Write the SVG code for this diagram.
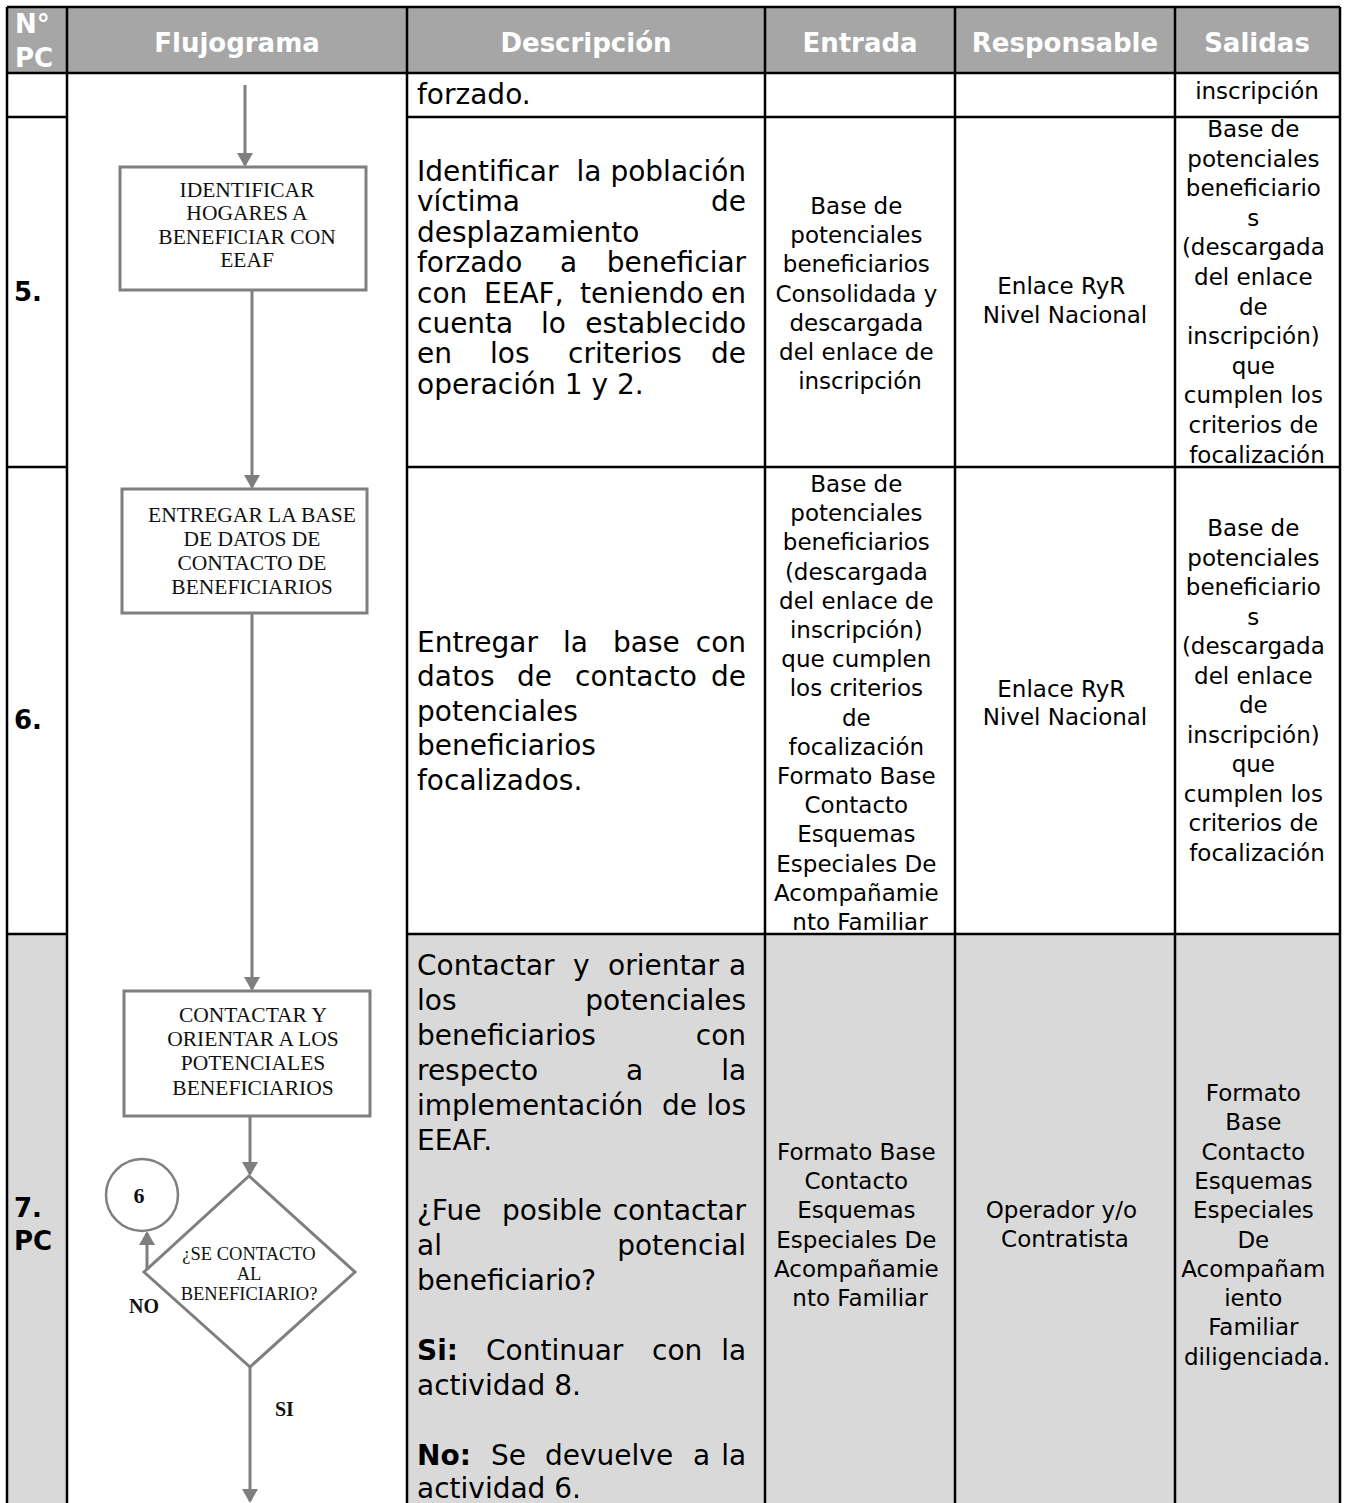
<svg xmlns="http://www.w3.org/2000/svg" width="1346" height="1503" viewBox="0 0 1346 1503">
<style>
.hd{font-family:"DejaVu Sans",Verdana,sans-serif;font-weight:bold;font-size:26px;fill:#fff;text-anchor:middle}
.hdl{font-family:"DejaVu Sans",Verdana,sans-serif;font-weight:bold;font-size:26px;fill:#fff}
.num{font-family:"DejaVu Sans",Verdana,sans-serif;font-weight:bold;font-size:26px;fill:#000}
.desc{font-family:"DejaVu Sans",Verdana,sans-serif;font-size:28px;fill:#000}
.desc .b{font-weight:bold}
.cell{font-family:"DejaVu Sans",Verdana,sans-serif;font-size:23px;fill:#000;text-anchor:middle}
.grid{stroke:#000;stroke-width:2.5;fill:none}
.shape{fill:#fff;stroke:#7f7f7f;stroke-width:3}
.btxt{font-family:"Liberation Serif","Times New Roman",serif;font-size:21.5px;fill:#111;text-anchor:middle}
.dtxt{font-family:"Liberation Serif","Times New Roman",serif;font-size:18.5px;fill:#111;text-anchor:middle}
.lbl{font-family:"Liberation Serif","Times New Roman",serif;font-size:20px;font-weight:bold;fill:#111}
.conn{stroke:#7f7f7f;stroke-width:3;fill:none;marker-end:url(#arr)}
</style>
<defs>
<marker id="arr" viewBox="0 0 14 16" refX="12" refY="8" markerWidth="14" markerHeight="16" markerUnits="userSpaceOnUse" orient="auto">
<path d="M0,0 L14,8 L0,16 z" fill="#7f7f7f"/>
</marker>
</defs>
<rect width="1346" height="1503" fill="#fff"/>
<!-- backgrounds -->
<rect x="7" y="7" width="1333" height="66" fill="#a6a6a6"/>
<rect x="7" y="934" width="60" height="569" fill="#d9d9d9"/>
<rect x="407" y="934" width="933" height="569" fill="#d9d9d9"/>
<!-- grid -->
<g id="grid" class="grid">
<path d="M7,7 H1340 M7,73 H1340 M7,117 H67 M407,117 H1340 M7,467 H67 M407,467 H1340 M7,934 H67 M407,934 H1340"/>
<path d="M7,7 V1503 M67,7 V1503 M407,7 V1503 M765,7 V1503 M955,7 V1503 M1175,7 V1503 M1340,7 V1503"/>
</g>
<!-- header -->
<g id="header">
<text class="hdl" x="15" y="33">N°</text>
<text class="hdl" x="15" y="67">PC</text>
<text class="hd" x="237" y="52">Flujograma</text>
<text class="hd" x="586" y="52">Descripción</text>
<text class="hd" x="860" y="52">Entrada</text>
<text class="hd" x="1065" y="52">Responsable</text>
<text class="hd" x="1257" y="52">Salidas</text>
</g>
<!-- row 4 (continuation) -->
<g id="row4">
<text class="desc" x="417" y="104">forzado.</text>
<text class="cell" x="1257" y="99">inscripción</text>
</g>
<!-- row 5 -->
<g id="row5">
<text class="num" x="14" y="301">5.</text>
<text class="desc">
<tspan x="417" y="181">Identificar</tspan><tspan x="576.5" y="181">la</tspan><tspan x="755" y="181" text-anchor="end">población</tspan>
<tspan x="417" y="211">víctima</tspan><tspan x="755" y="211" text-anchor="end">de</tspan>
<tspan x="417" y="242">desplazamiento</tspan>
<tspan x="417" y="272">forzado</tspan><tspan x="560" y="272">a</tspan><tspan x="755" y="272" text-anchor="end">beneficiar</tspan>
<tspan x="417" y="303">con</tspan><tspan x="484" y="303">EEAF,</tspan><tspan x="580" y="303">teniendo</tspan><tspan x="755" y="303" text-anchor="end">en</tspan>
<tspan x="417" y="333">cuenta</tspan><tspan x="541" y="333">lo</tspan><tspan x="755" y="333" text-anchor="end">establecido</tspan>
<tspan x="417" y="363">en</tspan><tspan x="490" y="363">los</tspan><tspan x="568" y="363">criterios</tspan><tspan x="755" y="363" text-anchor="end">de</tspan>
<tspan x="417" y="394">operación 1 y 2.</tspan>
</text>
<text class="cell">
<tspan x="860" y="214">Base de</tspan>
<tspan x="860" y="243">potenciales</tspan>
<tspan x="860" y="272">beneficiarios</tspan>
<tspan x="860" y="302">Consolidada y</tspan>
<tspan x="860" y="331">descargada</tspan>
<tspan x="860" y="360">del enlace de</tspan>
<tspan x="860" y="389">inscripción</tspan>
</text>
<text class="cell">
<tspan x="1065" y="294">Enlace RyR</tspan>
<tspan x="1065" y="323">Nivel Nacional</tspan>
</text>
<text class="cell">
<tspan x="1257" y="137">Base de</tspan>
<tspan x="1257" y="167">potenciales</tspan>
<tspan x="1257" y="196">beneficiario</tspan>
<tspan x="1257" y="226">s</tspan>
<tspan x="1257" y="255">(descargada</tspan>
<tspan x="1257" y="285">del enlace</tspan>
<tspan x="1257" y="315">de</tspan>
<tspan x="1257" y="344">inscripción)</tspan>
<tspan x="1257" y="374">que</tspan>
<tspan x="1257" y="403">cumplen los</tspan>
<tspan x="1257" y="433">criterios de</tspan>
<tspan x="1257" y="463">focalización</tspan>
</text>
</g>
<!-- row 6 -->
<g id="row6">
<text class="num" x="14" y="729">6.</text>
<text class="desc">
<tspan x="417" y="652">Entregar</tspan><tspan x="563" y="652">la</tspan><tspan x="613" y="652">base</tspan><tspan x="755" y="652" text-anchor="end">con</tspan>
<tspan x="417" y="686">datos</tspan><tspan x="517" y="686">de</tspan><tspan x="575" y="686">contacto</tspan><tspan x="755" y="686" text-anchor="end">de</tspan>
<tspan x="417" y="721">potenciales</tspan>
<tspan x="417" y="755">beneficiarios</tspan>
<tspan x="417" y="790">focalizados.</tspan>
</text>
<text class="cell">
<tspan x="860" y="492">Base de</tspan>
<tspan x="860" y="521">potenciales</tspan>
<tspan x="860" y="550">beneficiarios</tspan>
<tspan x="860" y="580">(descargada</tspan>
<tspan x="860" y="609">del enlace de</tspan>
<tspan x="860" y="638">inscripción)</tspan>
<tspan x="860" y="667">que cumplen</tspan>
<tspan x="860" y="696">los criterios</tspan>
<tspan x="860" y="726">de</tspan>
<tspan x="860" y="755">focalización</tspan>
<tspan x="860" y="784">Formato Base</tspan>
<tspan x="860" y="813">Contacto</tspan>
<tspan x="860" y="842">Esquemas</tspan>
<tspan x="860" y="872">Especiales De</tspan>
<tspan x="860" y="901">Acompañamie</tspan>
<tspan x="860" y="930">nto Familiar</tspan>
</text>
<text class="cell">
<tspan x="1065" y="697">Enlace RyR</tspan>
<tspan x="1065" y="725">Nivel Nacional</tspan>
</text>
<text class="cell">
<tspan x="1257" y="536">Base de</tspan>
<tspan x="1257" y="566">potenciales</tspan>
<tspan x="1257" y="595">beneficiario</tspan>
<tspan x="1257" y="625">s</tspan>
<tspan x="1257" y="654">(descargada</tspan>
<tspan x="1257" y="684">del enlace</tspan>
<tspan x="1257" y="713">de</tspan>
<tspan x="1257" y="743">inscripción)</tspan>
<tspan x="1257" y="772">que</tspan>
<tspan x="1257" y="802">cumplen los</tspan>
<tspan x="1257" y="831">criterios de</tspan>
<tspan x="1257" y="861">focalización</tspan>
</text>
</g>
<!-- row 7 -->
<g id="row7">
<text class="num" x="14" y="1217">7.</text>
<text class="num" x="14" y="1250">PC</text>
<text class="desc">
<tspan x="417" y="975">Contactar</tspan><tspan x="573" y="975">y</tspan><tspan x="608" y="975">orientar</tspan><tspan x="755" y="975" text-anchor="end">a</tspan>
<tspan x="417" y="1010">los</tspan><tspan x="755" y="1010" text-anchor="end">potenciales</tspan>
<tspan x="417" y="1045">beneficiarios</tspan><tspan x="755" y="1045" text-anchor="end">con</tspan>
<tspan x="417" y="1080">respecto</tspan><tspan x="626" y="1080">a</tspan><tspan x="755" y="1080" text-anchor="end">la</tspan>
<tspan x="417" y="1115">implementación</tspan><tspan x="662" y="1115">de</tspan><tspan x="755" y="1115" text-anchor="end">los</tspan>
<tspan x="417" y="1150">EEAF.</tspan>
<tspan x="417" y="1220">¿Fue</tspan><tspan x="502" y="1220">posible</tspan><tspan x="755" y="1220" text-anchor="end">contactar</tspan>
<tspan x="417" y="1255">al</tspan><tspan x="755" y="1255" text-anchor="end">potencial</tspan>
<tspan x="417" y="1290">beneficiario?</tspan>
<tspan x="417" y="1360" class="b">Si:</tspan><tspan x="486" y="1360">Continuar</tspan><tspan x="652" y="1360">con</tspan><tspan x="755" y="1360" text-anchor="end">la</tspan>
<tspan x="417" y="1395">actividad 8.</tspan>
<tspan x="417" y="1465" class="b">No:</tspan><tspan x="491" y="1465">Se</tspan><tspan x="545" y="1465">devuelve</tspan><tspan x="693" y="1465">a</tspan><tspan x="755" y="1465" text-anchor="end">la</tspan>
<tspan x="417" y="1498">actividad 6.</tspan>
</text>
<text class="cell">
<tspan x="860" y="1160">Formato Base</tspan>
<tspan x="860" y="1189">Contacto</tspan>
<tspan x="860" y="1218">Esquemas</tspan>
<tspan x="860" y="1248">Especiales De</tspan>
<tspan x="860" y="1277">Acompañamie</tspan>
<tspan x="860" y="1306">nto Familiar</tspan>
</text>
<text class="cell">
<tspan x="1065" y="1218">Operador y/o</tspan>
<tspan x="1065" y="1247">Contratista</tspan>
</text>
<text class="cell">
<tspan x="1257" y="1101">Formato</tspan>
<tspan x="1257" y="1130">Base</tspan>
<tspan x="1257" y="1160">Contacto</tspan>
<tspan x="1257" y="1189">Esquemas</tspan>
<tspan x="1257" y="1218">Especiales</tspan>
<tspan x="1257" y="1248">De</tspan>
<tspan x="1257" y="1277">Acompañam</tspan>
<tspan x="1257" y="1306">iento</tspan>
<tspan x="1257" y="1335">Familiar</tspan>
<tspan x="1257" y="1365">diligenciada.</tspan>
</text>
</g>
<!-- connectors -->
<g id="connectors">
<path class="conn" d="M245,85 V165"/>
<path class="conn" d="M252,290 V487"/>
<path class="conn" d="M252,613 V989"/>
<path class="conn" d="M250,1116 V1174"/>
<path class="conn" d="M147,1272 V1233"/>
<path class="conn" d="M250,1367 V1501"/>
</g>
<!-- nodes -->
<g id="n-identificar">
<rect class="shape" x="120" y="167" width="246" height="123"/>
<text class="btxt"><tspan x="247" y="197">IDENTIFICAR</tspan><tspan x="247" y="220">HOGARES A</tspan><tspan x="247" y="244">BENEFICIAR CON</tspan><tspan x="247" y="267">EEAF</tspan></text>
</g>
<g id="n-entregar">
<rect class="shape" x="122" y="489" width="245" height="124"/>
<text class="btxt"><tspan x="252" y="522">ENTREGAR LA BASE</tspan><tspan x="252" y="546">DE DATOS DE</tspan><tspan x="252" y="570">CONTACTO DE</tspan><tspan x="252" y="594">BENEFICIARIOS</tspan></text>
</g>
<g id="n-contactar">
<rect class="shape" x="124" y="991" width="246" height="125"/>
<text class="btxt"><tspan x="253" y="1022">CONTACTAR Y</tspan><tspan x="253" y="1046">ORIENTAR A LOS</tspan><tspan x="253" y="1070">POTENCIALES</tspan><tspan x="253" y="1095">BENEFICIARIOS</tspan></text>
</g>
<g id="n-decision">
<path class="shape" d="M249,1176 L355,1272 L250,1367 L144,1272 Z"/>
<text class="dtxt"><tspan x="249" y="1260">¿SE CONTACTO</tspan><tspan x="249" y="1280">AL</tspan><tspan x="249" y="1300">BENEFICIARIO?</tspan></text>
</g>
<g id="n-conector6">
<circle cx="142" cy="1195" r="36" fill="#fff" stroke="#7f7f7f" stroke-width="2.5"/>
<text class="lbl" x="139" y="1203" text-anchor="middle" style="font-size:22px">6</text>
</g>
<g id="labels">
<text class="lbl" x="129" y="1313">NO</text>
<text class="lbl" x="275" y="1416">SI</text>
</g>
</svg>
